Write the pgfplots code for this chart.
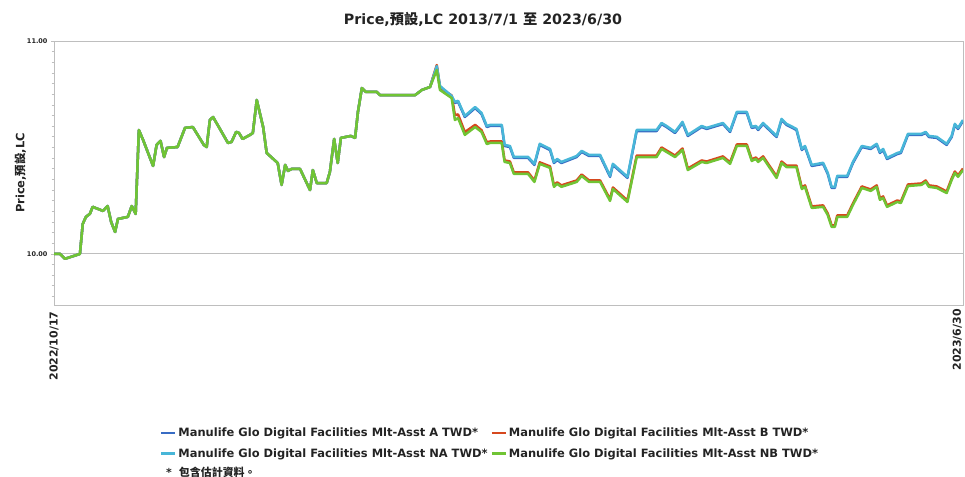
\documentclass[border=0pt]{standalone}
\usepackage{fontspec}
\setmainfont{DejaVu Sans}
\newfontfamily\cjk{Noto Sans CJK TC}
\usepackage{pgfplots}
\usepackage{pgfplotstable}
\pgfplotsset{compat=1.18}
\definecolor{colA}{HTML}{386CC4}
\definecolor{colB}{HTML}{D6481E}
\definecolor{colNA}{HTML}{48B6D8}
\definecolor{colNB}{HTML}{70C434}
\definecolor{gridc}{RGB}{190,190,190}
\definecolor{txt}{RGB}{35,35,35}

\pgfplotstableread{
day A B NA NB
0 10.000 10.000 10.000 10.000
1.7 10.000 10.000 10.000 10.000
3.1 9.977 9.977 9.977 9.977
7.3 10.000 10.000 10.000 10.000
8.1 10.141 10.141 10.141 10.141
9.0 10.174 10.174 10.174 10.174
10.1 10.188 10.188 10.188 10.188
10.9 10.221 10.221 10.221 10.221
13.8 10.202 10.202 10.202 10.202
15.1 10.225 10.225 10.225 10.225
16.1 10.150 10.150 10.150 10.150
17.2 10.103 10.103 10.103 10.103
18.0 10.164 10.164 10.164 10.164
20.8 10.174 10.174 10.174 10.174
21.9 10.225 10.225 10.225 10.225
23.0 10.188 10.188 10.188 10.188
23.9 10.582 10.582 10.582 10.582
25.1 10.535 10.535 10.535 10.535
27.9 10.413 10.413 10.413 10.413
28.9 10.512 10.512 10.512 10.512
30.0 10.531 10.531 10.531 10.531
31.0 10.455 10.455 10.455 10.455
31.8 10.498 10.498 10.498 10.498
34.8 10.502 10.502 10.502 10.502
36.9 10.592 10.592 10.592 10.592
39.1 10.596 10.596 10.596 10.596
42.2 10.512 10.512 10.512 10.512
43.0 10.502 10.502 10.502 10.502
43.9 10.629 10.629 10.629 10.629
44.8 10.643 10.643 10.643 10.643
49.0 10.521 10.521 10.521 10.521
50.0 10.526 10.526 10.526 10.526
51.3 10.573 10.573 10.573 10.573
52.1 10.568 10.568 10.568 10.568
53.1 10.540 10.540 10.540 10.540
55.2 10.559 10.559 10.559 10.559
56.0 10.568 10.568 10.568 10.568
57.1 10.723 10.723 10.723 10.723
58.9 10.596 10.596 10.596 10.596
59.9 10.474 10.474 10.474 10.474
63.0 10.427 10.427 10.427 10.427
64.1 10.324 10.324 10.324 10.324
65.1 10.418 10.418 10.418 10.418
65.9 10.390 10.390 10.390 10.390
66.9 10.399 10.399 10.399 10.399
69.3 10.399 10.399 10.399 10.399
72.1 10.300 10.300 10.300 10.300
72.9 10.394 10.394 10.394 10.394
74.0 10.333 10.333 10.333 10.333
76.8 10.333 10.333 10.333 10.333
77.7 10.385 10.385 10.385 10.385
78.9 10.540 10.540 10.540 10.540
79.9 10.427 10.427 10.427 10.427
80.8 10.545 10.545 10.545 10.545
83.6 10.554 10.554 10.554 10.554
84.8 10.545 10.545 10.545 10.545
85.6 10.667 10.667 10.667 10.667
86.7 10.779 10.779 10.779 10.779
87.8 10.761 10.761 10.761 10.761
90.9 10.761 10.761 10.761 10.761
91.8 10.746 10.746 10.746 10.746
101.7 10.746 10.746 10.746 10.746
103.6 10.770 10.770 10.770 10.770
105.9 10.784 10.784 10.784 10.784
107.8 10.878 10.887 10.882 10.864
108.7 10.784 10.780 10.789 10.770
112.0 10.737 10.744 10.742 10.732
112.9 10.709 10.652 10.714 10.629
113.8 10.714 10.655 10.719 10.638
115.7 10.643 10.572 10.648 10.559
118.6 10.685 10.606 10.690 10.596
120.4 10.657 10.581 10.662 10.573
121.9 10.596 10.524 10.601 10.516
122.8 10.601 10.528 10.606 10.521
126.1 10.601 10.528 10.606 10.521
126.9 10.507 10.439 10.512 10.432
128.4 10.502 10.434 10.507 10.427
129.5 10.451 10.383 10.456 10.376
133.5 10.451 10.383 10.456 10.376
135.3 10.418 10.345 10.423 10.338
136.8 10.512 10.430 10.517 10.423
139.7 10.488 10.411 10.493 10.404
140.8 10.427 10.322 10.432 10.315
141.7 10.441 10.336 10.446 10.329
142.9 10.427 10.322 10.432 10.315
147.2 10.455 10.345 10.460 10.338
148.6 10.479 10.373 10.484 10.366
150.7 10.460 10.345 10.465 10.338
153.8 10.460 10.345 10.465 10.338
156.6 10.362 10.256 10.367 10.249
157.4 10.418 10.312 10.423 10.305
161.5 10.357 10.251 10.362 10.244
164.1 10.577 10.462 10.582 10.455
169.7 10.577 10.462 10.582 10.455
171.1 10.610 10.500 10.615 10.493
172.5 10.596 10.486 10.601 10.479
174.9 10.568 10.462 10.573 10.455
177.0 10.615 10.495 10.620 10.488
178.5 10.554 10.401 10.559 10.394
182.4 10.596 10.439 10.601 10.432
183.8 10.587 10.434 10.592 10.427
188.4 10.610 10.458 10.615 10.451
190.4 10.573 10.430 10.578 10.423
192.3 10.662 10.514 10.667 10.507
195.1 10.662 10.514 10.667 10.507
196.5 10.592 10.444 10.597 10.437
197.7 10.596 10.453 10.601 10.446
198.3 10.582 10.439 10.587 10.432
199.7 10.610 10.458 10.615 10.451
203.5 10.549 10.364 10.554 10.357
204.9 10.629 10.434 10.634 10.427
206.3 10.606 10.415 10.611 10.408
209.1 10.582 10.415 10.587 10.408
210.6 10.488 10.312 10.493 10.305
211.5 10.502 10.322 10.507 10.315
213.4 10.413 10.223 10.418 10.216
216.6 10.423 10.228 10.428 10.221
217.9 10.376 10.190 10.381 10.183
219.0 10.310 10.134 10.315 10.127
219.9 10.310 10.134 10.315 10.127
220.6 10.362 10.181 10.367 10.174
223.4 10.362 10.181 10.367 10.174
225.0 10.427 10.237 10.432 10.230
227.5 10.502 10.317 10.507 10.310
230.0 10.493 10.303 10.498 10.296
231.7 10.512 10.322 10.517 10.315
232.6 10.474 10.261 10.479 10.254
233.5 10.488 10.270 10.493 10.263
234.6 10.446 10.228 10.451 10.221
237.5 10.469 10.251 10.474 10.244
238.5 10.474 10.246 10.479 10.239
240.5 10.559 10.326 10.564 10.319
244.3 10.559 10.331 10.564 10.324
245.5 10.568 10.345 10.573 10.338
246.4 10.549 10.322 10.554 10.315
248.6 10.545 10.317 10.550 10.310
251.4 10.512 10.293 10.517 10.286
252.8 10.549 10.354 10.554 10.347
253.7 10.606 10.387 10.611 10.380
254.6 10.587 10.369 10.592 10.362
256.0 10.624 10.401 10.629 10.394
}\data

\begin{document}
\begin{tikzpicture}
\useasboundingbox (0bp,0bp) rectangle (965bp,-477bp);
\begin{axis}[
  at={(54bp,-305bp)}, anchor=south west,
  scale only axis, width=909bp, height=264bp,
  xmin=0, xmax=256, ymin=9.76, ymax=11.0,
  axis line style={draw=gridc, line width=0.8bp},
  xtick={0}, xticklabels={2022/10/17},
  extra x ticks={256}, extra x tick labels={2023/6/30},
  extra x tick style={xticklabel style={anchor=south east, inner sep=1bp}},
  xtick style={draw=none},
  xticklabel style={rotate=90, anchor=east, font=\bfseries\fontsize{11}{13}\selectfont, text=txt},
  ytick={10,11},
  minor ytick={9.80,9.85,9.90,9.95,10.05,10.10,10.15,10.20,10.25,10.30,10.35,10.40,10.45,10.50,10.55,10.60,10.65,10.70,10.75,10.80,10.85,10.90,10.95},
  ytick pos=left, tick align=outside,
  major tick length=3bp, minor tick length=2.5bp,
  ytick style={draw=gridc, line width=0.7bp},
  minor tick style={draw=gridc, line width=0.7bp},
  ymajorgrids, major grid style={draw=gridc, line width=0.9bp},
  yticklabel style={font=\bfseries\fontsize{6.5}{8}\selectfont, text=txt},
  /pgf/number format/.cd, fixed, fixed zerofill, precision=2, assume math mode=true,
  /pgfplots/.cd,
  ylabel={Price,{\cjk 預設},LC},
  ylabel style={at={(axis description cs:-0.037,0.5)}, anchor=center, font=\bfseries\fontsize{11.5}{13}\selectfont, text=txt},
  title={Price,{\cjk 預設},LC 2013/7/1 {\cjk 至} 2023/6/30},
  title style={at={(axis description cs:0.472,1)}, anchor=base, yshift=11bp, font=\bfseries\fontsize{14.3}{16}\selectfont, text=txt},
  legend columns=2,
  legend style={at={(axis description cs:0.1166,-0.462)}, anchor=north west, draw=none, fill=none,
    font=\bfseries\fontsize{11.5}{13}\selectfont, row sep=8bp,
    nodes={inner sep=1bp, text=txt},
    /tikz/every odd column/.append style={column sep=1bp},
    /tikz/every even column/.append style={column sep=2bp},
    inner sep=0pt},
  legend cell align=left,
  legend image code/.code={\draw[#1, line width=2.2bp] (0bp,0bp) -- (14bp,0bp);},
]
\addplot[color=colA, line width=2.5bp, line join=round] table[x=day,y=A] {\data};
\addlegendentry{Manulife Glo Digital Facilities Mlt-Asst A TWD*}
\addplot[color=colB, line width=2.5bp, line join=round] table[x=day,y=B] {\data};
\addlegendentry{Manulife Glo Digital Facilities Mlt-Asst B TWD*}
\addplot[color=colNA, line width=2.5bp, line join=round] table[x=day,y=NA] {\data};
\addlegendentry{Manulife Glo Digital Facilities Mlt-Asst NA TWD*}
\addplot[color=colNB, line width=2.5bp, line join=round] table[x=day,y=NB] {\data};
\addlegendentry{Manulife Glo Digital Facilities Mlt-Asst NB TWD*}
\end{axis}
\node[anchor=base west, font=\bfseries\fontsize{11}{12}\selectfont, text=txt, inner sep=0pt] at (166bp,-476bp) {*\hspace{7bp}{\cjk 包含估計資料。}};
\end{tikzpicture}
\end{document}
